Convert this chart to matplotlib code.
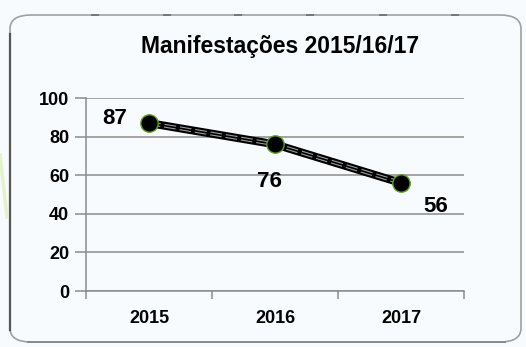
import matplotlib.pyplot as plt
from matplotlib.patches import FancyBboxPatch
from matplotlib.lines import Line2D

years = ['2015', '2016', '2017']
counts = [87, 76, 56]
label_offsets = [(-25, 3), (-4, -27), (25, -17)]  # points, relative to each marker
title = 'Manifestações 2015/16/17'

W, H = 526, 347
bg = '#f8fbfd'

fig = plt.figure(figsize=(W / 100, H / 100), dpi=100)
fig.patch.set_facecolor(bg)


def px(x, y):
    # pixel position (from top-left) -> figure fraction
    return x / W, 1 - y / H


# rounded chart frame
x0, y0 = px(10, 342)
x1, y1 = px(521, 15)
frame = FancyBboxPatch((x0, y0), x1 - x0, y1 - y0,
                       boxstyle='round,pad=0,rounding_size=0.04',
                       transform=fig.transFigure, facecolor='none',
                       edgecolor='#a0a0a0', linewidth=1.2, zorder=-1)
fig.patches.append(frame)
# darker left and bottom edge
fig.add_artist(Line2D([x0, x0], [px(0, 330)[1], px(0, 34)[1]],
                      transform=fig.transFigure, color='#555555', lw=1.6))
fig.add_artist(Line2D([px(28, 0)[0], px(505, 0)[0]], [y0, y0],
                      transform=fig.transFigure, color='#8a8a8a', lw=1.4))
# small marks along the top edge
for tx in [95, 167, 238, 310, 383, 455]:
    fig.add_artist(Line2D([px(tx - 3, 0)[0], px(tx + 3, 0)[0]], [y1, y1],
                          transform=fig.transFigure, color='#777777', lw=1.4))
# faint green stroke at left border
fig.add_artist(Line2D([px(0, 155)[0], px(7, 217)[0]], [px(0, 155)[1], px(7, 217)[1]],
                      transform=fig.transFigure, color='#e2f3cc', lw=2.5))

left, top = px(86, 98)
right, bottom = px(464, 291)
ax = fig.add_axes([left, bottom, right - left, top - bottom])
ax.set_facecolor('none')

x = list(range(len(years)))
ax.plot(x, counts, color='black', lw=5.8, solid_capstyle='round', zorder=3)
ax.plot(x, counts, color='#9a9a9a', lw=2.8, ls=(0, (3, 1)), zorder=3)
ax.plot(x, counts, color='black', lw=1.2, zorder=3)
ax.plot(x, counts, ls='none', marker='o', ms=12.5, mfc='black',
        mec='#5e9e2e', mew=1.0, zorder=4)

for xi, v, off in zip(x, counts, label_offsets):
    ax.annotate(str(v), (xi, v), xytext=off, textcoords='offset points',
                ha='center', va='center', fontsize=16, fontweight='bold',
                family='Liberation Sans', zorder=5)

ax.set_xlim(-0.5, 2.5)
ax.set_ylim(0, 100)
ax.set_yticks(range(0, 101, 20))
ax.yaxis.grid(True, color='#8c8c8c', lw=1.1)
ax.set_axisbelow(True)

ax.set_xticks(x)
ax.set_xticklabels(years)
ax.set_xticks([-0.5, 0.5, 1.5, 2.5], minor=True)
ax.tick_params(axis='x', which='major', length=0, pad=14)
ax.tick_params(axis='x', which='minor', length=6, width=1.1, color='#8c8c8c')
ax.tick_params(axis='y', length=8, width=1.1, color='#8c8c8c', pad=4)
for lab in ax.get_xticklabels() + ax.get_yticklabels():
    lab.set_fontsize(13)
    lab.set_fontweight('bold')
    lab.set_family('Liberation Sans')

for s in ['top', 'right']:
    ax.spines[s].set_visible(False)
for s in ['left', 'bottom']:
    ax.spines[s].set_color('#8c8c8c')
    ax.spines[s].set_linewidth(1.1)

tx, ty = px(280, 46)
fig.text(tx, ty, title, ha='center', va='center', fontsize=16.5,
         fontweight='bold', family='Liberation Sans')

fig.savefig('out.png', dpi=100, facecolor=bg)
